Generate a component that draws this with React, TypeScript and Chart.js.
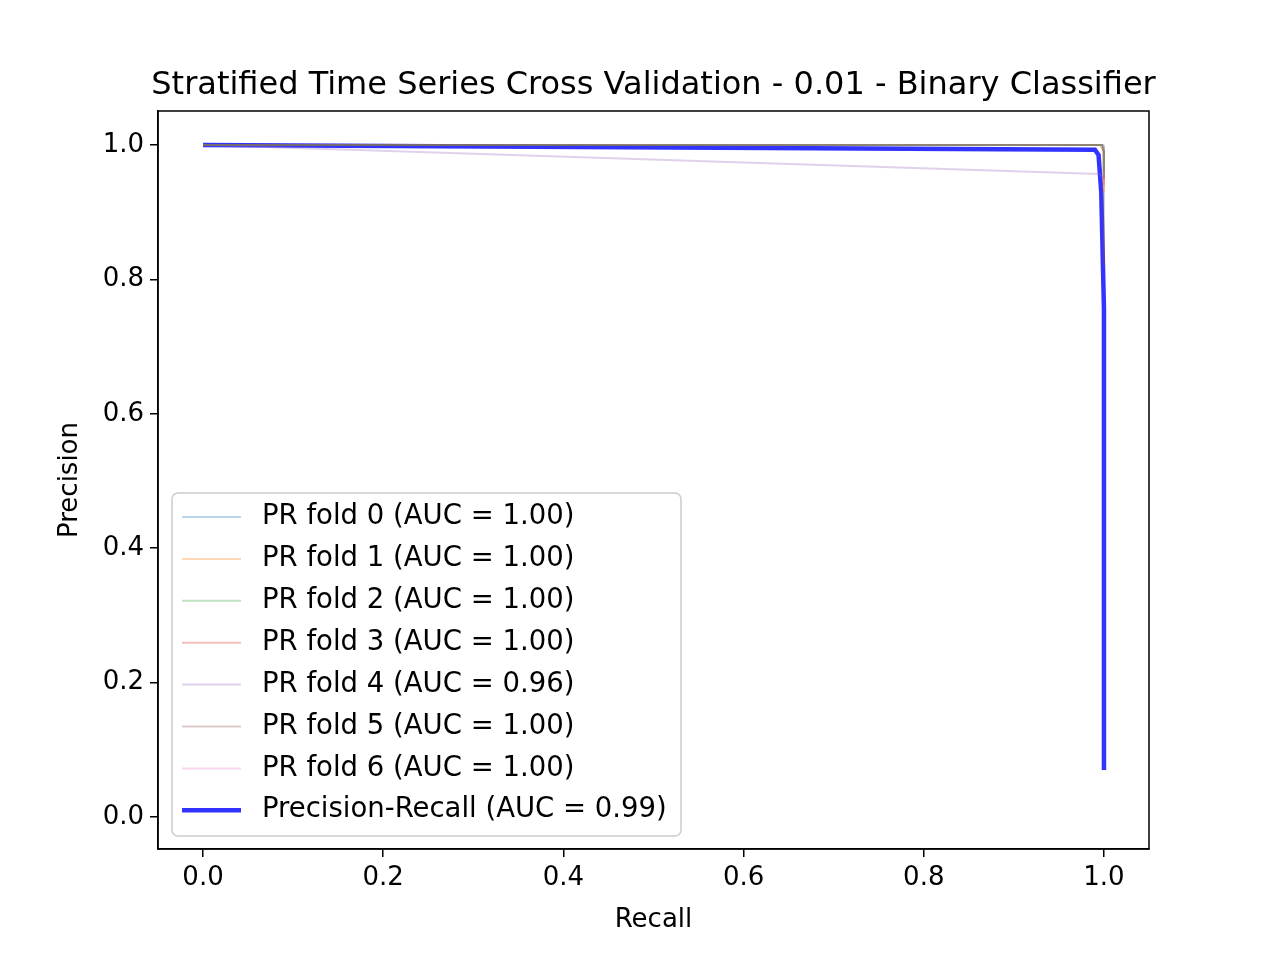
import { Chart, registerables } from "chart.js";
import { useEffect, useRef } from "react";

Chart.register(...registerables);

const foldLabels = [
  "PR fold 0 (AUC = 1.00)",
  "PR fold 1 (AUC = 1.00)",
  "PR fold 2 (AUC = 1.00)",
  "PR fold 3 (AUC = 1.00)",
  "PR fold 4 (AUC = 0.96)",
  "PR fold 5 (AUC = 1.00)",
  "PR fold 6 (AUC = 1.00)",
];
const foldColors = [
  "rgba(31,119,180,0.3)",
  "rgba(255,127,14,0.3)",
  "rgba(44,160,44,0.3)",
  "rgba(214,39,40,0.3)",
  "rgba(148,103,189,0.3)",
  "rgba(140,86,75,0.3)",
  "rgba(227,119,194,0.3)",
];
const foldRecall = [
  [0, 0.998, 1, 1],
  [0, 0.997, 1, 1],
  [0, 0.998, 1, 1],
  [0, 0.996, 1, 1],
  [0, 0.995, 1],
  [0, 0.999, 1, 1],
  [0, 0.998, 1, 1],
];
const foldPrecision = [
  [1, 1, 0.99, 0.95],
  [1, 1, 0.99, 0.93],
  [1, 1, 0.995, 0.96],
  [1, 1, 0.99, 0.94],
  [1, 0.957, 0.95],
  [1, 1, 1, 0.82],
  [1, 1, 0.99, 0.95],
];
const meanLabel = "Precision-Recall (AUC = 0.99)";
const meanRecall = [0, 0.99, 0.994, 0.997, 1, 1];
const meanPrecision = [1, 0.993, 0.985, 0.93, 0.755, 0.07];
const tickValues = [0, 0.2, 0.4, 0.6, 0.8, 1.0];

const FONT = "'DejaVu Sans', sans-serif";

export default function App() {
  const ref = useRef<HTMLCanvasElement>(null);

  useEffect(() => {
    document.body.style.margin = "0";
    if (!ref.current) return;
    const datasets: any[] = foldLabels.map((label, i) => ({
      label,
      data: foldRecall[i].map((r, j) => ({ x: r, y: foldPrecision[i][j] })),
      borderColor: foldColors[i],
      borderWidth: 2,
      pointRadius: 0,
      showLine: true,
    }));
    datasets.push({
      label: meanLabel,
      data: meanRecall.map((r, j) => ({ x: r, y: meanPrecision[j] })),
      borderColor: "rgba(0,0,255,0.8)",
      borderWidth: 4.5,
      pointRadius: 0,
      showLine: true,
    });

    const framePlugin = {
      id: "frame",
      afterDraw(chart: any) {
        const { ctx, chartArea: a } = chart;
        ctx.save();
        ctx.strokeStyle = "#000";
        ctx.lineWidth = 1.5;
        ctx.strokeRect(a.left, a.top, a.right - a.left, a.bottom - a.top);
        ctx.fillStyle = "#000";
        ctx.font = `32px ${FONT}`;
        ctx.textAlign = "center";
        ctx.textBaseline = "alphabetic";
        ctx.fillText(
          "Stratified Time Series Cross Validation - 0.01 - Binary Classifier",
          (a.left + a.right) / 2,
          a.top - 17
        );
        ctx.font = `26px ${FONT}`;
        ctx.textBaseline = "middle";
        ctx.fillText("Recall", (a.left + a.right) / 2, 920);
        ctx.save();
        ctx.translate(70, (a.top + a.bottom) / 2);
        ctx.rotate(-Math.PI / 2);
        ctx.fillText("Precision", 0, 0);
        ctx.restore();
        // legend
        const lx = 172, ly = 493, lw = 509, lh = 343;
        ctx.fillStyle = "rgba(255,255,255,0.8)";
        ctx.strokeStyle = "#ccc";
        ctx.lineWidth = 1.5;
        ctx.beginPath();
        ctx.roundRect(lx, ly, lw, lh, 6);
        ctx.fill();
        ctx.stroke();
        ctx.font = `27.5px ${FONT}`;
        ctx.textAlign = "left";
        chart.data.datasets.forEach((d: any, i: number) => {
          const y = 517 + i * 41.9;
          ctx.strokeStyle = d.borderColor;
          ctx.lineWidth = d.borderWidth;
          ctx.beginPath();
          ctx.moveTo(182, y);
          ctx.lineTo(241, y);
          ctx.stroke();
          ctx.fillStyle = "#000";
          ctx.fillText(d.label, 262, y);
        });
        ctx.restore();
      },
    };

    const axis = (min: number, max: number, fit: (s: any) => void) => ({
      type: "linear" as const,
      min,
      max,
      afterBuildTicks: (s: any) => {
        s.ticks = tickValues.map((v) => ({ value: v }));
      },
      afterFit: fit,
      ticks: {
        color: "#000",
        font: { family: FONT, size: 26 },
        callback: (v: any) => Number(v).toFixed(1),
        padding: 6,
        maxRotation: 0,
      },
      grid: { display: true, drawOnChartArea: false, drawTicks: true, tickLength: 8, color: "#000", lineWidth: 1.5 },
      border: { display: true, color: "#000", width: 1.5 },
    });

    const chart = new Chart(ref.current, {
      type: "scatter",
      data: { datasets },
      options: {
        animation: false,
        responsive: false,
        layout: { padding: { top: 111, right: 127, left: 0, bottom: 0 } },
        plugins: { legend: { display: false }, tooltip: { enabled: false } },
        scales: {
          x: axis(-0.05, 1.05, (s: any) => { s.height = 107; }),
          y: axis(-0.0476, 1.0506, (s: any) => { s.width = 158; }),
        },
      },
      plugins: [framePlugin],
    });
    return () => chart.destroy();
  }, []);

  return <canvas ref={ref} width={1276} height={956} style={{ display: "block" }} />;
}
